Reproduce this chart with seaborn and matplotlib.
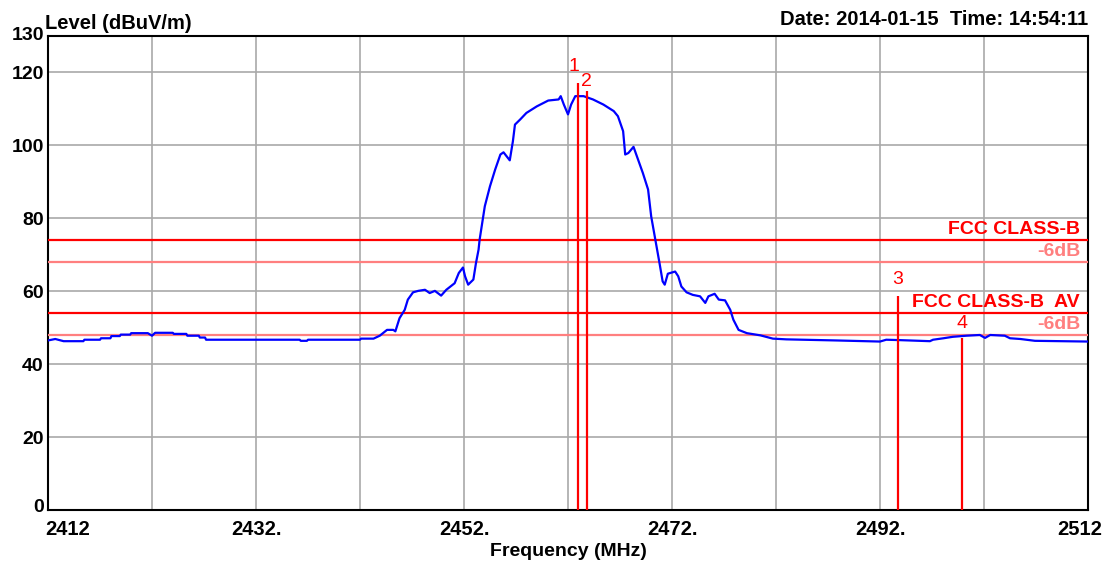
import numpy as np
import pandas as pd
import matplotlib
matplotlib.use("Agg")
import matplotlib.pyplot as plt
import seaborn as sns
from matplotlib.transforms import offset_copy

# ---- data ----
freq = [2412.0, 2412.7, 2413.5, 2415.4, 2415.5, 2417.0, 2417.1, 2418.0, 2418.1, 2418.9,
        2419.0, 2419.9, 2420.0, 2421.6, 2422.0, 2422.3, 2424.0, 2424.1, 2425.3, 2425.4,
        2426.5, 2426.6, 2427.1, 2427.2, 2436.2, 2436.3, 2436.9, 2437.0, 2442.0, 2442.1,
        2443.3, 2443.9, 2444.6, 2445.2, 2445.4, 2445.8, 2446.3, 2446.6, 2447.1, 2447.6,
        2448.25, 2448.7, 2449.2, 2449.8, 2450.3, 2451.1, 2451.5, 2451.9, 2452.1, 2452.4,
        2452.9, 2453.15, 2453.4, 2453.5, 2454.0, 2454.5, 2455.0, 2455.5, 2455.8, 2456.4,
        2456.7, 2456.9, 2457.4, 2458.0, 2459.0, 2460.1, 2461.1, 2461.3, 2461.6, 2462.0,
        2462.3, 2462.7, 2463.5, 2464.4, 2465.4, 2466.4, 2466.8, 2467.3, 2467.5, 2467.8,
        2468.3, 2468.8, 2469.2, 2469.7, 2470.0, 2470.4, 2470.8, 2471.1, 2471.3, 2471.6,
        2472.3, 2472.6, 2472.9, 2473.4, 2474.0, 2474.7, 2475.2, 2475.5, 2476.1, 2476.5,
        2477.1, 2477.6, 2477.9, 2478.4, 2479.2, 2480.5, 2481.7, 2483.0, 2487.8, 2492.0,
        2492.6, 2493.8, 2496.8, 2497.1, 2498.1, 2499.0, 2500.3, 2501.6, 2502.1, 2502.6,
        2504.0, 2504.5, 2505.5, 2506.9, 2512.0]
level = [46.5, 46.9, 46.3, 46.3, 46.7, 46.7, 47.1, 47.1, 47.7, 47.7,
         48.1, 48.1, 48.5, 48.5, 47.8, 48.6, 48.6, 48.3, 48.3, 47.8,
         47.8, 47.3, 47.3, 46.7, 46.7, 46.4, 46.4, 46.7, 46.7, 47.0,
         47.0, 47.8, 49.4, 49.4, 49.0, 52.6, 54.9, 57.7, 59.7, 60.1,
         60.4, 59.5, 60.1, 58.8, 60.4, 62.2, 65.0, 66.5, 64.1, 61.8,
         63.2, 67.7, 71.4, 74.1, 83.3, 88.8, 93.4, 97.5, 98.1, 95.9,
         101.1, 105.7, 107.1, 108.9, 110.7, 112.3, 112.6, 113.5, 111.2, 108.5,
         111.2, 113.5, 113.5, 112.6, 111.2, 109.4, 108.0, 103.9, 97.5, 97.9,
         99.6, 95.6, 92.4, 87.9, 80.5, 74.1, 67.7, 62.7, 61.8, 64.8,
         65.4, 64.1, 61.3, 59.7, 59.0, 58.6, 56.8, 58.6, 59.3, 57.7,
         57.5, 54.9, 52.2, 49.4, 48.5, 47.9, 47.0, 46.8, 46.5, 46.2,
         46.7, 46.6, 46.3, 46.7, 47.1, 47.5, 47.8, 48.0, 47.2, 48.0,
         47.8, 47.1, 46.9, 46.4, 46.2]

limit_levels = [74, 68, 54, 48]
limit_labels = ["FCC CLASS-B", "-6dB", "FCC CLASS-B  AV", "-6dB"]
limit_colors = ["#ff0000", "#ff7f7f", "#ff0000", "#ff7f7f"]

marker_freq = [2463.0, 2463.8, 2493.7, 2499.9]
marker_top = [117.2, 115.0, 58.8, 47.2]
marker_names = ["1", "2", "3", "4"]

xtick_vals = [2412, 2432, 2452, 2472, 2492, 2512]
xtick_labels = ["2412", "2432.", "2452.", "2472.", "2492.", "2512"]
xgrid_minor = [2422, 2442, 2462, 2482, 2502]
ytick_vals = [0, 20, 40, 60, 80, 100, 120, 130]

# ---- style ----
sns.set_style("white")
plt.rcParams['font.family'] = ['Liberation Sans', 'DejaVu Sans']
plt.rcParams['text.color'] = 'black'
plt.rcParams['axes.labelcolor'] = 'black'
plt.rcParams['xtick.color'] = 'black'
plt.rcParams['ytick.color'] = 'black'

W, H = 1112, 564
fig = plt.figure(figsize=(W / 100, H / 100), dpi=100)
ax = fig.add_axes([48 / W, 54 / H, 1040 / W, 474 / H])

df = pd.DataFrame({"Frequency": freq, "Level": level})
sns.lineplot(data=df, x="Frequency", y="Level", ax=ax, color="#0000ff",
             linewidth=1.6, zorder=6)

ax.set_xlim(2412, 2512)
ax.set_ylim(0, 130)

ax.set_xticks(xtick_vals)
ax.set_xticklabels(xtick_labels, fontsize=14.5, fontweight="bold", color="black")
ax.set_xticks(xgrid_minor, minor=True)
ax.set_yticks(ytick_vals)
ax.set_yticklabels([str(v) for v in ytick_vals], fontsize=14, fontweight="bold",
                   color="black")
ax.tick_params(axis="both", which="both", length=0)
ax.tick_params(axis="x", pad=7)
ax.tick_params(axis="y", pad=3)

ax.grid(True, which="both", color="#a9a9a9", linewidth=1.2, zorder=1)
ax.set_axisbelow(True)

for sp in ax.spines.values():
    sp.set_color("#000000")
    sp.set_linewidth(1.5)
    sp.set_visible(True)

ax.set_xlabel("Frequency (MHz)", fontsize=14, fontweight="bold", labelpad=3,
              color="black")
ax.set_ylabel("")

# align edge tick labels like the reference
xl = ax.get_xticklabels()
xl[0].set_horizontalalignment("left")
xl[-1].set_horizontalalignment("right")
xl[-1].set_transform(offset_copy(xl[-1].get_transform(), fig=fig, x=14, y=0, units="dots"))
xl[0].set_transform(offset_copy(xl[0].get_transform(), fig=fig, x=-3, y=0, units="dots"))
yl = ax.get_yticklabels()
yl[0].set_transform(offset_copy(yl[0].get_transform(), fig=fig, x=0, y=4, units="dots"))
yl[-1].set_transform(offset_copy(yl[-1].get_transform(), fig=fig, x=0, y=2, units="dots"))

# limit lines
for lv, lab, col in zip(limit_levels, limit_labels, limit_colors):
    ax.axhline(lv, color=col, linewidth=1.6, zorder=4)
    ax.annotate(lab, xy=(1, lv), xycoords=("axes fraction", "data"),
                xytext=(-8, 6), textcoords="offset pixels",
                ha="right", va="baseline", color=col, fontsize=14,
                fontweight="bold", zorder=7)

# markers
ax.vlines(marker_freq, 0, marker_top, colors="#ff0000", linewidth=1.6, zorder=7)
label_dx = [-4, 0, 0, 0]
label_dy = [8, 1, 8, 6]
for f, t, n, dx, dy in zip(marker_freq, marker_top, marker_names, label_dx, label_dy):
    ax.annotate(n, xy=(f, t), xycoords="data", xytext=(dx, dy),
                textcoords="offset pixels", ha="center", va="bottom",
                color="#ff0000", fontsize=14, zorder=8)

# header texts
fig.text(45 / W, 1 - 29 / H, "Level (dBuV/m)", ha="left", va="baseline",
         fontsize=14.5, fontweight="bold", color="black")
fig.text(1088 / W, 1 - 25 / H, "Date: 2014-01-15  Time: 14:54:11", ha="right",
         va="baseline", fontsize=14.5, fontweight="bold", color="black")

fig.savefig("out.png", dpi=100, facecolor="white")
